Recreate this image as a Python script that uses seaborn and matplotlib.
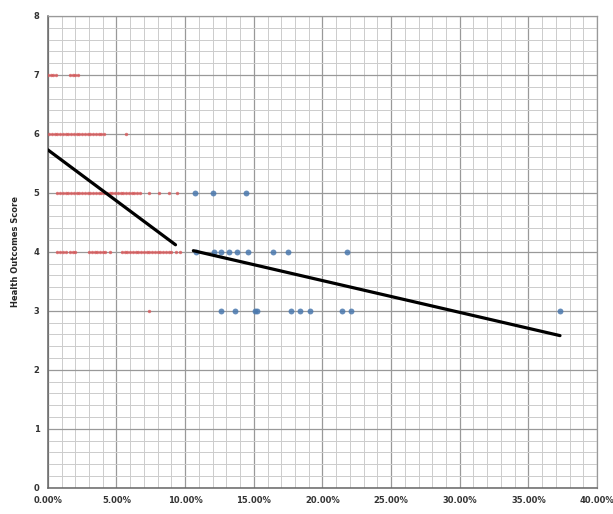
import numpy as np
import pandas as pd
import matplotlib
matplotlib.use("Agg")
import matplotlib.pyplot as plt
from matplotlib.ticker import MultipleLocator, PercentFormatter
import seaborn as sns

# Share of households (fraction) and health outcomes score, low-share group
low_x = [0.000, 0.002, 0.004, 0.006, 0.016, 0.018, 0.020, 0.022,
         0.001, 0.003, 0.005, 0.007, 0.009, 0.011, 0.013, 0.015, 0.017, 0.019,
         0.021, 0.023, 0.025, 0.027, 0.029, 0.031, 0.033, 0.035, 0.037, 0.039,
         0.041, 0.057,
         0.007, 0.009, 0.011, 0.013, 0.015, 0.017, 0.019, 0.021, 0.023, 0.025,
         0.027, 0.029, 0.031, 0.033, 0.035, 0.037, 0.039, 0.041, 0.043, 0.045,
         0.047, 0.049, 0.051, 0.053, 0.055, 0.057, 0.059, 0.061, 0.063, 0.065,
         0.067, 0.074, 0.081, 0.088, 0.094,
         0.007, 0.009, 0.011, 0.013, 0.016, 0.018, 0.020, 0.030, 0.032, 0.034,
         0.036, 0.038, 0.040, 0.042, 0.045, 0.054, 0.056, 0.058, 0.060, 0.062,
         0.064, 0.066, 0.068, 0.070, 0.072, 0.074, 0.076, 0.078, 0.080, 0.082,
         0.084, 0.086, 0.088, 0.090, 0.093, 0.096,
         0.074]
low_y = [7] * 8 + [6] * 22 + [5] * 35 + [4] * 36 + [3]

# High-share group
high_x = [0.107, 0.120, 0.144,
          0.108, 0.121, 0.126, 0.132, 0.138, 0.146, 0.164, 0.175, 0.218,
          0.126, 0.136, 0.151, 0.152, 0.177, 0.184, 0.191, 0.214, 0.221, 0.373]
high_y = [5] * 3 + [4] * 9 + [3] * 10

# Fitted trend for each group (endpoints)
trend_low_x = [0.000, 0.093]
trend_low_y = [5.73, 4.12]
trend_high_x = [0.106, 0.373]
trend_high_y = [4.02, 2.58]

df = pd.DataFrame({
    "share": low_x + high_x,
    "score": low_y + high_y,
    "group": ["low"] * len(low_x) + ["high"] * len(high_x),
})

sns.set_theme(style="white")
plt.rcParams["font.family"] = ["DejaVu Sans"]

fig = plt.figure(figsize=(6.13, 5.14), dpi=100)
ax = fig.add_axes([0.078, 0.051, 0.896, 0.918])

sns.scatterplot(data=df[df.group == "low"], x="share", y="score", ax=ax,
                color="#d8585a", s=6, linewidth=0, alpha=0.8, legend=False, zorder=3)
sns.scatterplot(data=df[df.group == "high"], x="share", y="score", ax=ax,
                color="#4a78ae", s=18, linewidth=0, alpha=0.85, legend=False, zorder=3)

sns.lineplot(x=trend_low_x, y=trend_low_y, ax=ax, color="black", linewidth=2.3, zorder=4)
sns.lineplot(x=trend_high_x, y=trend_high_y, ax=ax, color="black", linewidth=2.3, zorder=4)

ax.set_xlim(0, 0.40)
ax.set_ylim(0, 8)
ax.xaxis.set_major_locator(MultipleLocator(0.05))
ax.xaxis.set_minor_locator(MultipleLocator(0.01))
ax.yaxis.set_major_locator(MultipleLocator(1))
ax.yaxis.set_minor_locator(MultipleLocator(0.2))
ax.xaxis.set_major_formatter(PercentFormatter(xmax=1, decimals=2))

ax.grid(which="major", color="#999999", linewidth=0.9, zorder=0)
ax.grid(which="minor", color="#cccccc", linewidth=0.7, zorder=0)
ax.set_axisbelow(True)

for side in ["top", "right"]:
    ax.spines[side].set_color("#999999")
    ax.spines[side].set_linewidth(0.9)
for side in ["left", "bottom"]:
    ax.spines[side].set_color("#666666")
    ax.spines[side].set_linewidth(1.1)

ax.tick_params(axis="both", which="both", length=0, labelsize=6, pad=6, colors="#333333")
for lab in ax.get_xticklabels() + ax.get_yticklabels():
    lab.set_fontweight("bold")

ax.set_xlabel("")
ax.set_ylabel("Health Outcomes Score", fontsize=6, fontweight="bold", labelpad=10)

fig.savefig("out.png", dpi=100)
